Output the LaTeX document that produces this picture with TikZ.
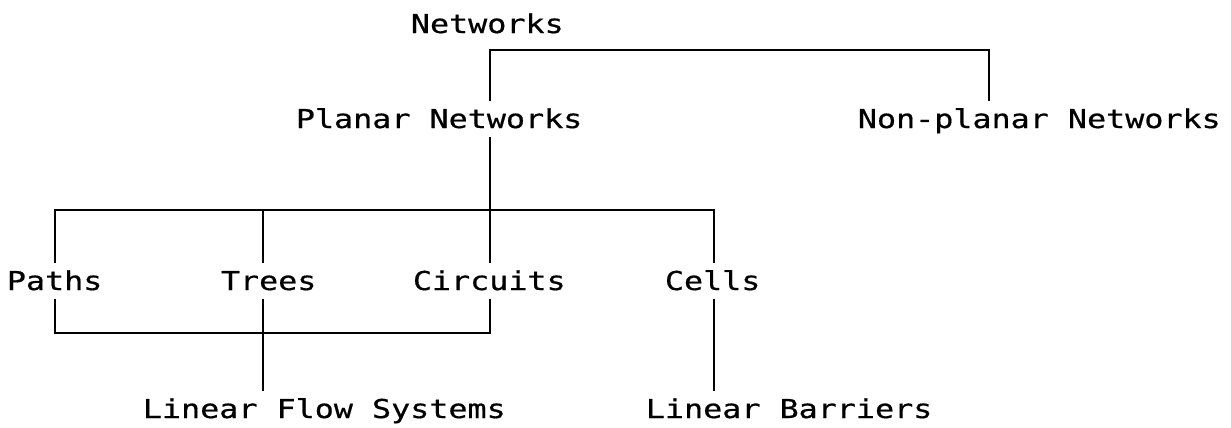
\documentclass[tikz,border=0pt]{standalone}
\usepackage{fontspec}
\newfontfamily\labfont{DejaVu Sans Mono}[FakeStretch=1.22, FakeBold=0.6]
\begin{document}
\begin{tikzpicture}[x=0.5pt,y=-0.5pt,
  lab/.style={font=\labfont\fontsize{13}{15}\selectfont, inner sep=0pt,
    text height=14pt, text depth=5pt, anchor=base west},
  conn/.style={line width=1pt, line cap=rect}]
\useasboundingbox (0,0) rectangle (1231,428);
% nodes
\node[lab] (net) at (410.5,33) {Networks};
\node[lab] (planar) at (295.5,128) {Planar Networks};
\node[lab] (nonplanar) at (857.5,128) {Non-planar Networks};
\node[lab] (paths) at (6.5,290) {Paths};
\node[lab] (trees) at (220.5,290) {Trees};
\node[lab] (circ) at (412.5,290) {Circuits};
\node[lab] (cells) at (664.5,290) {Cells};
\node[lab] (lfs) at (142.5,418) {Linear Flow Systems};
\node[lab] (lb) at (645.5,418) {Linear Barriers};
% junction coordinates
\coordinate (t1) at (490,50);
\coordinate (t2) at (989,50);
\coordinate (hL) at (55,210);
\coordinate (hT) at (263,210);
\coordinate (hC) at (490,210);
\coordinate (hR) at (714,210);
\coordinate (bL) at (55,333);
\coordinate (bR) at (490,333);
% connectors
\draw[conn] (t1 |- planar.north) -- (t1) -- (t2) -- (t2 |- nonplanar.north);
\draw[conn] (hC |- planar.south) -- (hC |- circ.north);
\draw[conn] (hL |- paths.north) -- (hL) -- (hR) -- (hR |- cells.north);
\draw[conn] (hT) -- (hT |- trees.north);
\draw[conn] (bL |- paths.south) -- (bL) -- (bR) -- (bR |- circ.south);
\draw[conn] (hT |- trees.south) -- (hT |- lfs.north);
\draw[conn] (hR |- cells.south) -- (hR |- lb.north);
\end{tikzpicture}
\end{document}
